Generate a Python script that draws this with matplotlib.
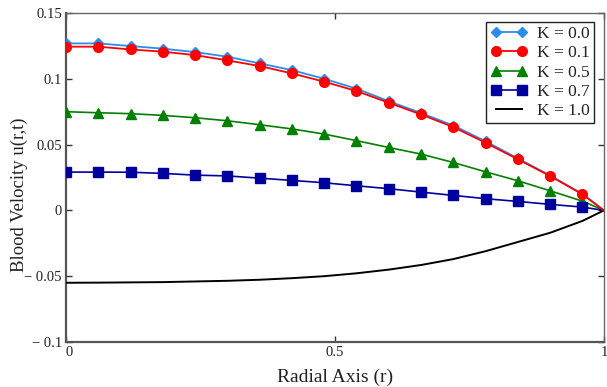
import matplotlib
matplotlib.use("Agg")
import matplotlib.pyplot as plt
import numpy as np

# radial positions (markers at every point except the last, r = 1)
r = [0.00, 0.06, 0.12, 0.18, 0.24, 0.30, 0.36, 0.42, 0.48, 0.54,
     0.60, 0.66, 0.72, 0.78, 0.84, 0.90, 0.96, 1.00]

k00 = [0.1269, 0.1269, 0.1249, 0.1229, 0.1203, 0.1168, 0.1117, 0.1066, 0.1000,
       0.0925, 0.0830, 0.0740, 0.0645, 0.0525, 0.0395, 0.0265, 0.0125, 0.0]
k01 = [0.1244, 0.1244, 0.1223, 0.1206, 0.1180, 0.1140, 0.1097, 0.1041, 0.0978,
       0.0907, 0.0818, 0.0729, 0.0633, 0.0514, 0.0388, 0.0261, 0.0122, 0.0]
k05 = [0.0750, 0.0742, 0.0735, 0.0722, 0.0704, 0.0681, 0.0651, 0.0619, 0.0580,
       0.0530, 0.0478, 0.0428, 0.0364, 0.0293, 0.0225, 0.0149, 0.0070, 0.0]
k07 = [0.0291, 0.0291, 0.0290, 0.0281, 0.0268, 0.0262, 0.0245, 0.0228, 0.0210,
       0.0187, 0.0165, 0.0139, 0.0114, 0.0089, 0.0068, 0.0046, 0.0025, 0.0]
k10 = [-0.0550, -0.0549, -0.0547, -0.0545, -0.0540, -0.0535, -0.0527, -0.0515,
       -0.0500, -0.0478, -0.0450, -0.0415, -0.0370, -0.0310, -0.0240, -0.0170,
       -0.0080, 0.0]

labels = ["K = 0.0", "K = 0.1", "K = 0.5", "K = 0.7", "K = 1.0"]
yticks = [0.15, 0.1, 0.05, 0, -0.05, -0.1]
yticklabels = ["0.15", "0.1", "0.05", "0", "\u2212 0.05", "\u2212 0.1"]
xticks = [0, 0.5, 1]
xticklabels = ["0", "0.5", "1"]

plt.rcParams['font.family'] = ['Liberation Serif', 'DejaVu Serif']

fig = plt.figure(figsize=(6.07, 3.87), dpi=100)
ax = fig.add_axes([0.1087, 0.1163, 0.8863, 0.8501])

n = len(r) - 1
me = list(range(n))
ax.plot(r, k00, color='#2B8CEE', lw=1.3, marker='D', ms=5.5, markevery=me, label=labels[0], zorder=3)
ax.plot(r, k01, color='#FF0000', lw=1.3, marker='o', ms=7, markevery=me, label=labels[1], zorder=4)
ax.plot(r, k05, color='#008000', lw=1.2, marker='^', ms=7, markevery=me, label=labels[2], zorder=3)
ax.plot(r, k07, color='#00009C', lw=1.2, marker='s', ms=6.5, markevery=me, label=labels[3], zorder=3)
ax.plot(r, k10, color='#000000', lw=1.4, label=labels[4], zorder=3)

ax.set_xlim(0, 1)
ax.set_ylim(-0.1, 0.15)
ax.set_yticks(yticks)
ax.set_yticklabels(yticklabels)
ax.set_xticks(xticks)
ax.set_xticklabels(xticklabels)
ax.tick_params(direction='in', top=True, right=True, length=4, width=1,
               labelsize=10.5, labelcolor='#222222', color='#333333', pad=3)
ax.get_xticklabels()[0].set_horizontalalignment('left')

for s in ['left', 'bottom']:
    ax.spines[s].set_linewidth(1.6)
    ax.spines[s].set_color('#555555')
for s in ['top', 'right']:
    ax.spines[s].set_linewidth(1.0)
    ax.spines[s].set_color('#666666')

ax.set_xlabel("Radial Axis (r)", fontsize=14, color='#222222', va='center')
ax.xaxis.set_label_coords(0.5, -0.106)
ax.set_ylabel("Blood Velocity u(r,t)", fontsize=13.5, color='#222222', va='center')
ax.yaxis.set_label_coords(-0.0875, 0.447)

leg = ax.legend(loc='upper right', bbox_to_anchor=(0.981, 0.973), fontsize=12.5,
                numpoints=2, handlelength=2.1, frameon=True, fancybox=False,
                edgecolor='#222222', framealpha=1, borderpad=0.25,
                labelspacing=0.17, handletextpad=0.55, borderaxespad=0.0)
leg.get_frame().set_linewidth(1.0)
for t in leg.get_texts():
    t.set_color('#222222')

fig.savefig("out.png", dpi=100)
